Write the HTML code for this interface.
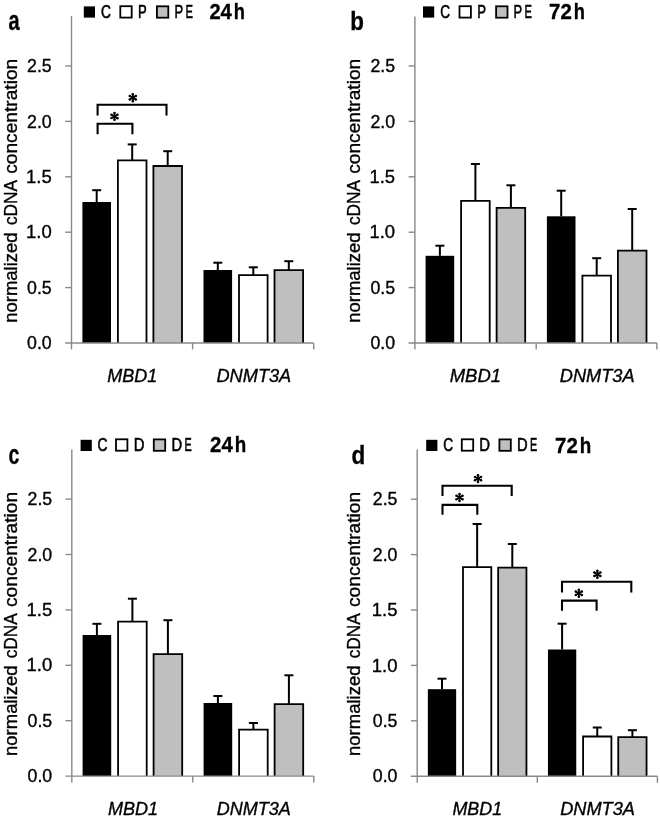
<!DOCTYPE html>
<html><head><meta charset="utf-8"><style>html,body{margin:0;padding:0;background:#fff;width:660px;height:818px;overflow:hidden}svg{display:block}text{font-family:"Liberation Sans",sans-serif;fill:#000;stroke:#000;stroke-width:0.35px}svg{filter:grayscale(1)}</style></head>
<body><svg width="660" height="818" viewBox="0 0 660 818">
<line x1="96.70" y1="202.00" x2="96.70" y2="190.20" stroke="#000" stroke-width="2"/>
<line x1="92.20" y1="190.20" x2="101.20" y2="190.20" stroke="#000" stroke-width="2"/>
<rect x="82.40" y="202.00" width="28.60" height="141.00" fill="#000"/>
<line x1="132.20" y1="160.30" x2="132.20" y2="144.40" stroke="#000" stroke-width="2"/>
<line x1="127.70" y1="144.40" x2="136.70" y2="144.40" stroke="#000" stroke-width="2"/>
<rect x="117.90" y="160.30" width="28.60" height="182.70" fill="#ffffff"/>
<path d="M117.90 343.00V160.30H146.50V343.00" stroke="#000" stroke-width="1.8" fill="none"/>
<line x1="167.70" y1="166.00" x2="167.70" y2="151.20" stroke="#000" stroke-width="2"/>
<line x1="163.20" y1="151.20" x2="172.20" y2="151.20" stroke="#000" stroke-width="2"/>
<rect x="153.40" y="166.00" width="28.60" height="177.00" fill="#bfbfbf"/>
<path d="M153.40 343.00V166.00H182.00V343.00" stroke="#000" stroke-width="1.8" fill="none"/>
<line x1="217.80" y1="270.00" x2="217.80" y2="262.70" stroke="#000" stroke-width="2"/>
<line x1="213.30" y1="262.70" x2="222.30" y2="262.70" stroke="#000" stroke-width="2"/>
<rect x="203.50" y="270.00" width="28.60" height="73.00" fill="#000"/>
<line x1="253.30" y1="275.10" x2="253.30" y2="267.30" stroke="#000" stroke-width="2"/>
<line x1="248.80" y1="267.30" x2="257.80" y2="267.30" stroke="#000" stroke-width="2"/>
<rect x="239.00" y="275.10" width="28.60" height="67.90" fill="#ffffff"/>
<path d="M239.00 343.00V275.10H267.60V343.00" stroke="#000" stroke-width="1.8" fill="none"/>
<line x1="288.80" y1="270.10" x2="288.80" y2="261.20" stroke="#000" stroke-width="2"/>
<line x1="284.30" y1="261.20" x2="293.30" y2="261.20" stroke="#000" stroke-width="2"/>
<rect x="274.50" y="270.10" width="28.60" height="72.90" fill="#bfbfbf"/>
<path d="M274.50 343.00V270.10H303.10V343.00" stroke="#000" stroke-width="1.8" fill="none"/>
<line x1="71.50" y1="16.10" x2="71.50" y2="349.50" stroke="#898989" stroke-width="1.4"/>
<line x1="65.20" y1="343.00" x2="313.70" y2="343.00" stroke="#898989" stroke-width="1.4"/>
<line x1="65.20" y1="287.60" x2="71.50" y2="287.60" stroke="#898989" stroke-width="1.4"/>
<line x1="65.20" y1="232.20" x2="71.50" y2="232.20" stroke="#898989" stroke-width="1.4"/>
<line x1="65.20" y1="176.80" x2="71.50" y2="176.80" stroke="#898989" stroke-width="1.4"/>
<line x1="65.20" y1="121.40" x2="71.50" y2="121.40" stroke="#898989" stroke-width="1.4"/>
<line x1="65.20" y1="66.00" x2="71.50" y2="66.00" stroke="#898989" stroke-width="1.4"/>
<line x1="192.60" y1="343.00" x2="192.60" y2="349.50" stroke="#898989" stroke-width="1.4"/>
<line x1="313.70" y1="343.00" x2="313.70" y2="349.50" stroke="#898989" stroke-width="1.4"/>
<line x1="439.90" y1="255.80" x2="439.90" y2="245.70" stroke="#000" stroke-width="2"/>
<line x1="435.40" y1="245.70" x2="444.40" y2="245.70" stroke="#000" stroke-width="2"/>
<rect x="425.60" y="255.80" width="28.60" height="87.20" fill="#000"/>
<line x1="475.40" y1="200.90" x2="475.40" y2="164.00" stroke="#000" stroke-width="2"/>
<line x1="470.90" y1="164.00" x2="479.90" y2="164.00" stroke="#000" stroke-width="2"/>
<rect x="461.10" y="200.90" width="28.60" height="142.10" fill="#ffffff"/>
<path d="M461.10 343.00V200.90H489.70V343.00" stroke="#000" stroke-width="1.8" fill="none"/>
<line x1="510.90" y1="207.90" x2="510.90" y2="185.30" stroke="#000" stroke-width="2"/>
<line x1="506.40" y1="185.30" x2="515.40" y2="185.30" stroke="#000" stroke-width="2"/>
<rect x="496.60" y="207.90" width="28.60" height="135.10" fill="#bfbfbf"/>
<path d="M496.60 343.00V207.90H525.20V343.00" stroke="#000" stroke-width="1.8" fill="none"/>
<line x1="561.20" y1="216.30" x2="561.20" y2="190.70" stroke="#000" stroke-width="2"/>
<line x1="556.70" y1="190.70" x2="565.70" y2="190.70" stroke="#000" stroke-width="2"/>
<rect x="546.90" y="216.30" width="28.60" height="126.70" fill="#000"/>
<line x1="596.70" y1="275.60" x2="596.70" y2="258.20" stroke="#000" stroke-width="2"/>
<line x1="592.20" y1="258.20" x2="601.20" y2="258.20" stroke="#000" stroke-width="2"/>
<rect x="582.40" y="275.60" width="28.60" height="67.40" fill="#ffffff"/>
<path d="M582.40 343.00V275.60H611.00V343.00" stroke="#000" stroke-width="1.8" fill="none"/>
<line x1="632.20" y1="250.60" x2="632.20" y2="209.00" stroke="#000" stroke-width="2"/>
<line x1="627.70" y1="209.00" x2="636.70" y2="209.00" stroke="#000" stroke-width="2"/>
<rect x="617.90" y="250.60" width="28.60" height="92.40" fill="#bfbfbf"/>
<path d="M617.90 343.00V250.60H646.50V343.00" stroke="#000" stroke-width="1.8" fill="none"/>
<line x1="414.90" y1="16.50" x2="414.90" y2="349.50" stroke="#898989" stroke-width="1.4"/>
<line x1="408.60" y1="343.00" x2="656.90" y2="343.00" stroke="#898989" stroke-width="1.4"/>
<line x1="408.60" y1="287.60" x2="414.90" y2="287.60" stroke="#898989" stroke-width="1.4"/>
<line x1="408.60" y1="232.20" x2="414.90" y2="232.20" stroke="#898989" stroke-width="1.4"/>
<line x1="408.60" y1="176.80" x2="414.90" y2="176.80" stroke="#898989" stroke-width="1.4"/>
<line x1="408.60" y1="121.40" x2="414.90" y2="121.40" stroke="#898989" stroke-width="1.4"/>
<line x1="408.60" y1="66.00" x2="414.90" y2="66.00" stroke="#898989" stroke-width="1.4"/>
<line x1="536.20" y1="343.00" x2="536.20" y2="349.50" stroke="#898989" stroke-width="1.4"/>
<line x1="656.90" y1="343.00" x2="656.90" y2="349.50" stroke="#898989" stroke-width="1.4"/>
<line x1="96.90" y1="635.00" x2="96.90" y2="623.80" stroke="#000" stroke-width="2"/>
<line x1="92.40" y1="623.80" x2="101.40" y2="623.80" stroke="#000" stroke-width="2"/>
<rect x="82.60" y="635.00" width="28.60" height="141.10" fill="#000"/>
<line x1="132.40" y1="621.70" x2="132.40" y2="598.70" stroke="#000" stroke-width="2"/>
<line x1="127.90" y1="598.70" x2="136.90" y2="598.70" stroke="#000" stroke-width="2"/>
<rect x="118.10" y="621.70" width="28.60" height="154.40" fill="#ffffff"/>
<path d="M118.10 776.10V621.70H146.70V776.10" stroke="#000" stroke-width="1.8" fill="none"/>
<line x1="167.90" y1="654.20" x2="167.90" y2="620.20" stroke="#000" stroke-width="2"/>
<line x1="163.40" y1="620.20" x2="172.40" y2="620.20" stroke="#000" stroke-width="2"/>
<rect x="153.60" y="654.20" width="28.60" height="121.90" fill="#bfbfbf"/>
<path d="M153.60 776.10V654.20H182.20V776.10" stroke="#000" stroke-width="1.8" fill="none"/>
<line x1="217.90" y1="703.00" x2="217.90" y2="696.00" stroke="#000" stroke-width="2"/>
<line x1="213.40" y1="696.00" x2="222.40" y2="696.00" stroke="#000" stroke-width="2"/>
<rect x="203.60" y="703.00" width="28.60" height="73.10" fill="#000"/>
<line x1="253.40" y1="729.60" x2="253.40" y2="723.00" stroke="#000" stroke-width="2"/>
<line x1="248.90" y1="723.00" x2="257.90" y2="723.00" stroke="#000" stroke-width="2"/>
<rect x="239.10" y="729.60" width="28.60" height="46.50" fill="#ffffff"/>
<path d="M239.10 776.10V729.60H267.70V776.10" stroke="#000" stroke-width="1.8" fill="none"/>
<line x1="288.90" y1="704.20" x2="288.90" y2="675.30" stroke="#000" stroke-width="2"/>
<line x1="284.40" y1="675.30" x2="293.40" y2="675.30" stroke="#000" stroke-width="2"/>
<rect x="274.60" y="704.20" width="28.60" height="71.90" fill="#bfbfbf"/>
<path d="M274.60 776.10V704.20H303.20V776.10" stroke="#000" stroke-width="1.8" fill="none"/>
<line x1="71.80" y1="449.40" x2="71.80" y2="782.60" stroke="#898989" stroke-width="1.4"/>
<line x1="65.50" y1="776.10" x2="313.80" y2="776.10" stroke="#898989" stroke-width="1.4"/>
<line x1="65.50" y1="720.70" x2="71.80" y2="720.70" stroke="#898989" stroke-width="1.4"/>
<line x1="65.50" y1="665.30" x2="71.80" y2="665.30" stroke="#898989" stroke-width="1.4"/>
<line x1="65.50" y1="609.90" x2="71.80" y2="609.90" stroke="#898989" stroke-width="1.4"/>
<line x1="65.50" y1="554.50" x2="71.80" y2="554.50" stroke="#898989" stroke-width="1.4"/>
<line x1="65.50" y1="499.10" x2="71.80" y2="499.10" stroke="#898989" stroke-width="1.4"/>
<line x1="192.80" y1="776.10" x2="192.80" y2="782.60" stroke="#898989" stroke-width="1.4"/>
<line x1="313.80" y1="776.10" x2="313.80" y2="782.60" stroke="#898989" stroke-width="1.4"/>
<line x1="442.00" y1="689.20" x2="442.00" y2="678.70" stroke="#000" stroke-width="2"/>
<line x1="437.50" y1="678.70" x2="446.50" y2="678.70" stroke="#000" stroke-width="2"/>
<rect x="427.85" y="689.20" width="28.30" height="87.00" fill="#000"/>
<line x1="477.15" y1="567.10" x2="477.15" y2="524.00" stroke="#000" stroke-width="2"/>
<line x1="472.65" y1="524.00" x2="481.65" y2="524.00" stroke="#000" stroke-width="2"/>
<rect x="463.00" y="567.10" width="28.30" height="209.10" fill="#ffffff"/>
<path d="M463.00 776.20V567.10H491.30V776.20" stroke="#000" stroke-width="1.8" fill="none"/>
<line x1="512.30" y1="567.60" x2="512.30" y2="544.00" stroke="#000" stroke-width="2"/>
<line x1="507.80" y1="544.00" x2="516.80" y2="544.00" stroke="#000" stroke-width="2"/>
<rect x="498.15" y="567.60" width="28.30" height="208.60" fill="#bfbfbf"/>
<path d="M498.15 776.20V567.60H526.45V776.20" stroke="#000" stroke-width="1.8" fill="none"/>
<line x1="562.10" y1="649.50" x2="562.10" y2="623.70" stroke="#000" stroke-width="2"/>
<line x1="557.60" y1="623.70" x2="566.60" y2="623.70" stroke="#000" stroke-width="2"/>
<rect x="547.95" y="649.50" width="28.30" height="126.70" fill="#000"/>
<line x1="597.25" y1="736.50" x2="597.25" y2="727.50" stroke="#000" stroke-width="2"/>
<line x1="592.75" y1="727.50" x2="601.75" y2="727.50" stroke="#000" stroke-width="2"/>
<rect x="583.10" y="736.50" width="28.30" height="39.70" fill="#ffffff"/>
<path d="M583.10 776.20V736.50H611.40V776.20" stroke="#000" stroke-width="1.8" fill="none"/>
<line x1="632.40" y1="737.10" x2="632.40" y2="730.20" stroke="#000" stroke-width="2"/>
<line x1="627.90" y1="730.20" x2="636.90" y2="730.20" stroke="#000" stroke-width="2"/>
<rect x="618.25" y="737.10" width="28.30" height="39.10" fill="#bfbfbf"/>
<path d="M618.25 776.20V737.10H646.55V776.20" stroke="#000" stroke-width="1.8" fill="none"/>
<line x1="417.20" y1="449.40" x2="417.20" y2="782.70" stroke="#898989" stroke-width="1.4"/>
<line x1="410.90" y1="776.20" x2="657.40" y2="776.20" stroke="#898989" stroke-width="1.4"/>
<line x1="410.90" y1="720.80" x2="417.20" y2="720.80" stroke="#898989" stroke-width="1.4"/>
<line x1="410.90" y1="665.40" x2="417.20" y2="665.40" stroke="#898989" stroke-width="1.4"/>
<line x1="410.90" y1="610.00" x2="417.20" y2="610.00" stroke="#898989" stroke-width="1.4"/>
<line x1="410.90" y1="554.60" x2="417.20" y2="554.60" stroke="#898989" stroke-width="1.4"/>
<line x1="410.90" y1="499.20" x2="417.20" y2="499.20" stroke="#898989" stroke-width="1.4"/>
<line x1="537.30" y1="776.20" x2="537.30" y2="782.70" stroke="#898989" stroke-width="1.4"/>
<line x1="657.40" y1="776.20" x2="657.40" y2="782.70" stroke="#898989" stroke-width="1.4"/>
<rect x="83.80" y="6.40" width="11.20" height="11.20" fill="#000"/>
<rect x="120.30" y="6.20" width="11.40" height="11.40" fill="#ffffff" stroke="#000" stroke-width="1.8"/>
<rect x="156.90" y="6.30" width="11.40" height="11.40" fill="#bfbfbf" stroke="#000" stroke-width="1.8"/>
<rect x="423.00" y="6.40" width="11.20" height="11.20" fill="#000"/>
<rect x="459.50" y="6.20" width="11.40" height="11.40" fill="#ffffff" stroke="#000" stroke-width="1.8"/>
<rect x="496.10" y="6.30" width="11.40" height="11.40" fill="#bfbfbf" stroke="#000" stroke-width="1.8"/>
<rect x="80.60" y="439.80" width="11.20" height="11.20" fill="#000"/>
<rect x="116.00" y="439.30" width="11.40" height="11.40" fill="#ffffff" stroke="#000" stroke-width="1.8"/>
<rect x="153.80" y="439.40" width="11.40" height="11.40" fill="#bfbfbf" stroke="#000" stroke-width="1.8"/>
<rect x="426.20" y="439.80" width="11.20" height="11.20" fill="#000"/>
<rect x="461.80" y="439.30" width="11.40" height="11.40" fill="#ffffff" stroke="#000" stroke-width="1.8"/>
<rect x="499.40" y="439.40" width="11.40" height="11.40" fill="#bfbfbf" stroke="#000" stroke-width="1.8"/>
<path d="M97.60 115.60V104.80H166.50V115.60" stroke="#000" stroke-width="2.1" fill="none" stroke-linejoin="miter" stroke-linecap="butt"/>
<path d="M97.60 134.20V123.80H132.40V134.20" stroke="#000" stroke-width="2.1" fill="none" stroke-linejoin="miter" stroke-linecap="butt"/>
<path d="M132.80 97.70L132.80 94.25M132.80 97.70L135.79 95.98M132.80 97.70L129.81 95.98M132.80 97.70L132.80 101.15M132.80 97.70L129.81 99.42M132.80 97.70L135.79 99.43" stroke="#000" stroke-width="1.7" stroke-linecap="round" fill="none"/><circle cx="132.80" cy="94.25" r="1.25"/><circle cx="135.79" cy="95.98" r="1.25"/><circle cx="129.81" cy="95.98" r="1.25"/><circle cx="132.80" cy="101.15" r="1.25"/><circle cx="129.81" cy="99.42" r="1.25"/><circle cx="135.79" cy="99.43" r="1.25"/>
<path d="M114.50 116.40L114.50 112.95M114.50 116.40L117.49 114.68M114.50 116.40L111.51 114.68M114.50 116.40L114.50 119.85M114.50 116.40L111.51 118.12M114.50 116.40L117.49 118.13" stroke="#000" stroke-width="1.7" stroke-linecap="round" fill="none"/><circle cx="114.50" cy="112.95" r="1.25"/><circle cx="117.49" cy="114.68" r="1.25"/><circle cx="111.51" cy="114.68" r="1.25"/><circle cx="114.50" cy="119.85" r="1.25"/><circle cx="111.51" cy="118.12" r="1.25"/><circle cx="117.49" cy="118.13" r="1.25"/>
<path d="M442.50 496.00V485.70H511.70V496.00" stroke="#000" stroke-width="2.1" fill="none" stroke-linejoin="miter" stroke-linecap="butt"/>
<path d="M442.50 514.70V504.90H477.30V514.70" stroke="#000" stroke-width="2.1" fill="none" stroke-linejoin="miter" stroke-linecap="butt"/>
<path d="M478.00 478.60L478.00 475.15M478.00 478.60L480.99 476.88M478.00 478.60L475.01 476.88M478.00 478.60L478.00 482.05M478.00 478.60L475.01 480.33M478.00 478.60L480.99 480.33" stroke="#000" stroke-width="1.7" stroke-linecap="round" fill="none"/><circle cx="478.00" cy="475.15" r="1.25"/><circle cx="480.99" cy="476.88" r="1.25"/><circle cx="475.01" cy="476.88" r="1.25"/><circle cx="478.00" cy="482.05" r="1.25"/><circle cx="475.01" cy="480.33" r="1.25"/><circle cx="480.99" cy="480.33" r="1.25"/>
<path d="M459.50 497.50L459.50 494.05M459.50 497.50L462.49 495.77M459.50 497.50L456.51 495.77M459.50 497.50L459.50 500.95M459.50 497.50L456.51 499.23M459.50 497.50L462.49 499.23" stroke="#000" stroke-width="1.7" stroke-linecap="round" fill="none"/><circle cx="459.50" cy="494.05" r="1.25"/><circle cx="462.49" cy="495.77" r="1.25"/><circle cx="456.51" cy="495.77" r="1.25"/><circle cx="459.50" cy="500.95" r="1.25"/><circle cx="456.51" cy="499.23" r="1.25"/><circle cx="462.49" cy="499.23" r="1.25"/>
<path d="M562.00 592.50V581.80H631.30V592.50" stroke="#000" stroke-width="2.1" fill="none" stroke-linejoin="miter" stroke-linecap="butt"/>
<path d="M562.00 610.70V600.60H596.60V610.70" stroke="#000" stroke-width="2.1" fill="none" stroke-linejoin="miter" stroke-linecap="butt"/>
<path d="M597.40 574.20L597.40 570.75M597.40 574.20L600.39 572.48M597.40 574.20L594.41 572.48M597.40 574.20L597.40 577.65M597.40 574.20L594.41 575.93M597.40 574.20L600.39 575.93" stroke="#000" stroke-width="1.7" stroke-linecap="round" fill="none"/><circle cx="597.40" cy="570.75" r="1.25"/><circle cx="600.39" cy="572.48" r="1.25"/><circle cx="594.41" cy="572.48" r="1.25"/><circle cx="597.40" cy="577.65" r="1.25"/><circle cx="594.41" cy="575.93" r="1.25"/><circle cx="600.39" cy="575.93" r="1.25"/>
<path d="M578.80 593.20L578.80 589.75M578.80 593.20L581.79 591.48M578.80 593.20L575.81 591.48M578.80 593.20L578.80 596.65M578.80 593.20L575.81 594.93M578.80 593.20L581.79 594.93" stroke="#000" stroke-width="1.7" stroke-linecap="round" fill="none"/><circle cx="578.80" cy="589.75" r="1.25"/><circle cx="581.79" cy="591.48" r="1.25"/><circle cx="575.81" cy="591.48" r="1.25"/><circle cx="578.80" cy="596.65" r="1.25"/><circle cx="575.81" cy="594.93" r="1.25"/><circle cx="581.79" cy="594.93" r="1.25"/>
<text x="27.10" y="349.10" font-size="18" textLength="24.63" lengthAdjust="spacingAndGlyphs">0.0</text>
<text x="27.10" y="293.70" font-size="18" textLength="24.63" lengthAdjust="spacingAndGlyphs">0.5</text>
<text x="26.08" y="238.30" font-size="18" textLength="25.66" lengthAdjust="spacingAndGlyphs">1.0</text>
<text x="26.08" y="182.90" font-size="18" textLength="25.66" lengthAdjust="spacingAndGlyphs">1.5</text>
<text x="27.10" y="127.50" font-size="18" textLength="24.63" lengthAdjust="spacingAndGlyphs">2.0</text>
<text x="27.10" y="72.10" font-size="18" textLength="24.63" lengthAdjust="spacingAndGlyphs">2.5</text>
<text transform="translate(17.10,322.80) rotate(-90)" x="-0.00" y="0" font-size="18" textLength="90.45" lengthAdjust="spacingAndGlyphs">normalized</text>
<text transform="translate(17.10,225.10) rotate(-90)" x="-0.00" y="0" font-size="18" textLength="45.22" lengthAdjust="spacingAndGlyphs">cDNA</text>
<text transform="translate(17.10,173.80) rotate(-90)" x="-0.00" y="0" font-size="18" textLength="115.08" lengthAdjust="spacingAndGlyphs">concentration</text>
<text x="107.20" y="381.70" font-size="18" font-style="italic" textLength="50.02" lengthAdjust="spacingAndGlyphs">MBD1</text>
<text x="216.50" y="381.80" font-size="18" font-style="italic" textLength="74.73" lengthAdjust="spacingAndGlyphs">DNMT3A</text>
<text x="370.50" y="349.10" font-size="18" textLength="24.63" lengthAdjust="spacingAndGlyphs">0.0</text>
<text x="370.50" y="293.70" font-size="18" textLength="24.63" lengthAdjust="spacingAndGlyphs">0.5</text>
<text x="369.48" y="238.30" font-size="18" textLength="25.66" lengthAdjust="spacingAndGlyphs">1.0</text>
<text x="369.48" y="182.90" font-size="18" textLength="25.66" lengthAdjust="spacingAndGlyphs">1.5</text>
<text x="370.50" y="127.50" font-size="18" textLength="24.63" lengthAdjust="spacingAndGlyphs">2.0</text>
<text x="370.50" y="72.10" font-size="18" textLength="24.63" lengthAdjust="spacingAndGlyphs">2.5</text>
<text transform="translate(360.30,322.80) rotate(-90)" x="-0.00" y="0" font-size="18" textLength="90.45" lengthAdjust="spacingAndGlyphs">normalized</text>
<text transform="translate(360.30,225.10) rotate(-90)" x="-0.00" y="0" font-size="18" textLength="45.22" lengthAdjust="spacingAndGlyphs">cDNA</text>
<text transform="translate(360.30,173.80) rotate(-90)" x="-0.00" y="0" font-size="18" textLength="115.08" lengthAdjust="spacingAndGlyphs">concentration</text>
<text x="449.70" y="381.80" font-size="18" font-style="italic" textLength="51.34" lengthAdjust="spacingAndGlyphs">MBD1</text>
<text x="559.80" y="381.80" font-size="18" font-style="italic" textLength="74.73" lengthAdjust="spacingAndGlyphs">DNMT3A</text>
<text x="27.60" y="782.20" font-size="18" textLength="24.63" lengthAdjust="spacingAndGlyphs">0.0</text>
<text x="27.60" y="726.80" font-size="18" textLength="24.63" lengthAdjust="spacingAndGlyphs">0.5</text>
<text x="26.58" y="671.40" font-size="18" textLength="25.66" lengthAdjust="spacingAndGlyphs">1.0</text>
<text x="26.58" y="616.00" font-size="18" textLength="25.66" lengthAdjust="spacingAndGlyphs">1.5</text>
<text x="27.60" y="560.60" font-size="18" textLength="24.63" lengthAdjust="spacingAndGlyphs">2.0</text>
<text x="27.60" y="505.20" font-size="18" textLength="24.63" lengthAdjust="spacingAndGlyphs">2.5</text>
<text transform="translate(17.10,756.00) rotate(-90)" x="-0.00" y="0" font-size="18" textLength="90.45" lengthAdjust="spacingAndGlyphs">normalized</text>
<text transform="translate(17.10,658.30) rotate(-90)" x="-0.00" y="0" font-size="18" textLength="45.22" lengthAdjust="spacingAndGlyphs">cDNA</text>
<text transform="translate(17.10,607.00) rotate(-90)" x="-0.00" y="0" font-size="18" textLength="115.08" lengthAdjust="spacingAndGlyphs">concentration</text>
<text x="107.90" y="814.60" font-size="18" font-style="italic" textLength="50.12" lengthAdjust="spacingAndGlyphs">MBD1</text>
<text x="216.80" y="814.80" font-size="18" font-style="italic" textLength="74.02" lengthAdjust="spacingAndGlyphs">DNMT3A</text>
<text x="372.80" y="782.30" font-size="18" textLength="24.63" lengthAdjust="spacingAndGlyphs">0.0</text>
<text x="372.80" y="726.90" font-size="18" textLength="24.63" lengthAdjust="spacingAndGlyphs">0.5</text>
<text x="371.78" y="671.50" font-size="18" textLength="25.66" lengthAdjust="spacingAndGlyphs">1.0</text>
<text x="371.78" y="616.10" font-size="18" textLength="25.66" lengthAdjust="spacingAndGlyphs">1.5</text>
<text x="372.80" y="560.70" font-size="18" textLength="24.63" lengthAdjust="spacingAndGlyphs">2.0</text>
<text x="372.80" y="505.30" font-size="18" textLength="24.63" lengthAdjust="spacingAndGlyphs">2.5</text>
<text transform="translate(360.30,756.00) rotate(-90)" x="-0.00" y="0" font-size="18" textLength="90.45" lengthAdjust="spacingAndGlyphs">normalized</text>
<text transform="translate(360.30,658.30) rotate(-90)" x="-0.00" y="0" font-size="18" textLength="45.22" lengthAdjust="spacingAndGlyphs">cDNA</text>
<text transform="translate(360.30,607.00) rotate(-90)" x="-0.00" y="0" font-size="18" textLength="115.08" lengthAdjust="spacingAndGlyphs">concentration</text>
<text x="452.40" y="814.60" font-size="18" font-style="italic" textLength="49.81" lengthAdjust="spacingAndGlyphs">MBD1</text>
<text x="560.20" y="814.80" font-size="18" font-style="italic" textLength="74.73" lengthAdjust="spacingAndGlyphs">DNMT3A</text>
<text x="101.00" y="17.70" font-size="18" style="stroke-width:0.6px" textLength="9.90" lengthAdjust="spacingAndGlyphs">C</text>
<text x="137.97" y="17.70" font-size="18" style="stroke-width:0.6px" textLength="8.74" lengthAdjust="spacingAndGlyphs">P</text>
<text x="174.38" y="17.70" font-size="18" style="stroke-width:0.6px" textLength="8.63" lengthAdjust="spacingAndGlyphs">P</text>
<text x="185.38" y="17.70" font-size="18" style="stroke-width:0.6px" textLength="7.43" lengthAdjust="spacingAndGlyphs">E</text>
<text x="209.40" y="18.75" font-size="21.5" font-weight="bold" textLength="22.43" lengthAdjust="spacingAndGlyphs">24</text>
<text x="233.85" y="18.75" font-size="21.5" font-weight="bold" textLength="11.17" lengthAdjust="spacingAndGlyphs">h</text>
<text x="440.30" y="17.70" font-size="18" style="stroke-width:0.6px" textLength="9.80" lengthAdjust="spacingAndGlyphs">C</text>
<text x="477.17" y="17.70" font-size="18" style="stroke-width:0.6px" textLength="8.74" lengthAdjust="spacingAndGlyphs">P</text>
<text x="513.58" y="17.70" font-size="18" style="stroke-width:0.6px" textLength="8.63" lengthAdjust="spacingAndGlyphs">P</text>
<text x="524.58" y="17.70" font-size="18" style="stroke-width:0.6px" textLength="7.43" lengthAdjust="spacingAndGlyphs">E</text>
<text x="549.10" y="19.10" font-size="21.5" font-weight="bold" textLength="22.73" lengthAdjust="spacingAndGlyphs">72</text>
<text x="573.85" y="19.10" font-size="21.5" font-weight="bold" textLength="11.17" lengthAdjust="spacingAndGlyphs">h</text>
<text x="97.60" y="450.80" font-size="18" style="stroke-width:0.6px" textLength="10.00" lengthAdjust="spacingAndGlyphs">C</text>
<text x="133.78" y="450.80" font-size="18" style="stroke-width:0.6px" textLength="10.73" lengthAdjust="spacingAndGlyphs">D</text>
<text x="171.38" y="450.80" font-size="18" style="stroke-width:0.6px" textLength="10.62" lengthAdjust="spacingAndGlyphs">D</text>
<text x="184.50" y="450.80" font-size="18" style="stroke-width:0.6px" textLength="7.21" lengthAdjust="spacingAndGlyphs">E</text>
<text x="210.10" y="452.40" font-size="21.5" font-weight="bold" textLength="22.73" lengthAdjust="spacingAndGlyphs">24</text>
<text x="234.82" y="452.40" font-size="21.5" font-weight="bold" textLength="11.50" lengthAdjust="spacingAndGlyphs">h</text>
<text x="443.30" y="450.80" font-size="18" style="stroke-width:0.6px" textLength="9.90" lengthAdjust="spacingAndGlyphs">C</text>
<text x="479.18" y="450.80" font-size="18" style="stroke-width:0.6px" textLength="10.72" lengthAdjust="spacingAndGlyphs">D</text>
<text x="516.98" y="450.80" font-size="18" style="stroke-width:0.6px" textLength="10.62" lengthAdjust="spacingAndGlyphs">D</text>
<text x="530.10" y="450.80" font-size="18" style="stroke-width:0.6px" textLength="7.21" lengthAdjust="spacingAndGlyphs">E</text>
<text x="555.10" y="452.50" font-size="21.5" font-weight="bold" textLength="22.73" lengthAdjust="spacingAndGlyphs">72</text>
<text x="579.83" y="452.50" font-size="21.5" font-weight="bold" textLength="11.50" lengthAdjust="spacingAndGlyphs">h</text>
<text x="8.50" y="30.00" font-size="27" font-weight="bold" textLength="11.09" lengthAdjust="spacingAndGlyphs">a</text>
<text x="350.14" y="30.00" font-size="26" font-weight="bold" textLength="13.67" lengthAdjust="spacingAndGlyphs">b</text>
<text x="8.50" y="463.50" font-size="27" font-weight="bold" textLength="10.82" lengthAdjust="spacingAndGlyphs">c</text>
<text x="351.50" y="463.60" font-size="26.5" font-weight="bold" textLength="13.71" lengthAdjust="spacingAndGlyphs">d</text>
</svg></body></html>
